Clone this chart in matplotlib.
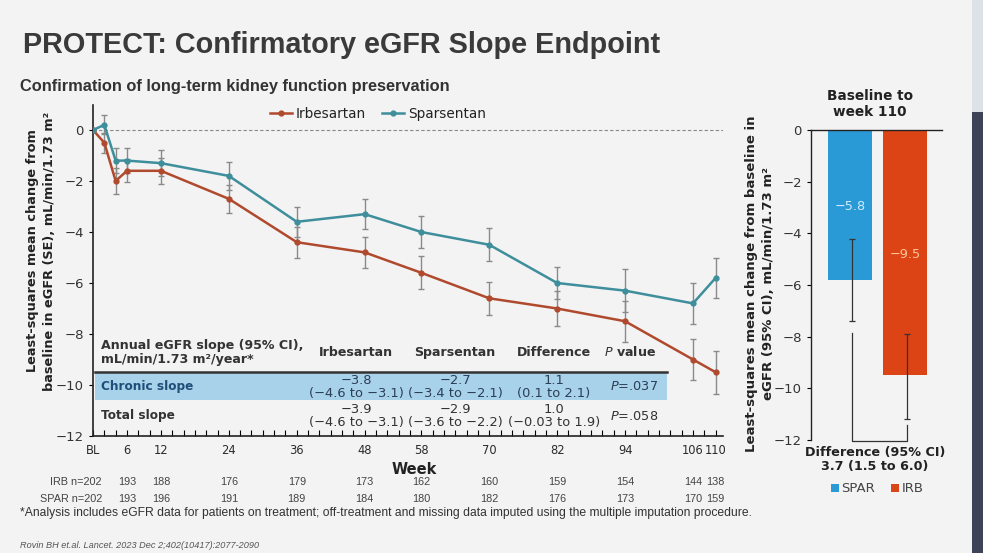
import matplotlib
matplotlib.use("Agg")
import matplotlib.pyplot as plt
from matplotlib.patches import Rectangle, Patch
from matplotlib.lines import Line2D
from matplotlib.transforms import blended_transform_factory

# ---------------- data ----------------
weeks = [0, 2, 4, 6, 12, 24, 36, 48, 58, 70, 82, 94, 106, 110]
irb_mean = [0, -0.5, -2.0, -1.6, -1.6, -2.7, -4.4, -4.8, -5.6, -6.6, -7.0, -7.5, -9.0, -9.5]
irb_se = [0, 0.4, 0.5, 0.45, 0.5, 0.55, 0.6, 0.6, 0.65, 0.65, 0.7, 0.8, 0.8, 0.85]
spar_mean = [0, 0.2, -1.2, -1.2, -1.3, -1.8, -3.6, -3.3, -4.0, -4.5, -6.0, -6.3, -6.8, -5.8]
spar_se = [0, 0.37, 0.5, 0.5, 0.5, 0.55, 0.6, 0.6, 0.63, 0.65, 0.62, 0.85, 0.8, 0.8]

tick_weeks = [0, 6, 12, 24, 36, 48, 58, 70, 82, 94, 106, 110]
tick_labels = ["BL", "6", "12", "24", "36", "48", "58", "70", "82", "94", "106", "110"]
n_irb = [202, 193, 188, 176, 179, 173, 162, 160, 159, 154, 144, 138]
n_spar = [202, 193, 196, 191, 189, 184, 180, 182, 176, 173, 170, 159]

table_cols = ["Irbesartan", "Sparsentan", "Difference"]
chronic_vals = ["\u22123.8\n(\u22124.6 to \u22123.1)", "\u22122.7\n(\u22123.4 to \u22122.1)", "1.1\n(0.1 to 2.1)"]
total_vals = ["\u22123.9\n(\u22124.6 to \u22123.1)", "\u22122.9\n(\u22123.6 to \u22122.2)", "1.0\n(\u22120.03 to 1.9)"]
p_vals = [".037", ".058"]

bar_groups = ["SPAR", "IRB"]
bar_values = [-5.8, -9.5]
bar_ci_low = [-7.4, -11.2]
bar_ci_high = [-4.2, -7.9]
bar_labels = ["\u22125.8", "\u22129.5"]
bracket_tops = [-7.85, -11.4]
bracket_bottom = -12.05

# ---------------- style ----------------
IRB_C = "#B04A2E"
SPAR_C = "#3E8E9C"
BAR_SPAR = "#2A9AD6"
BAR_IRB = "#DC4416"
BG = "#F3F3F3"
TXT = "#333333"
NARROW = ["Liberation Sans Narrow", "Liberation Sans"]

W, H = 983, 553
fig = plt.figure(figsize=(W / 100, H / 100), dpi=100)
fig.patch.set_facecolor(BG)

def fx(x):
    return x / W

def fy(y):
    return 1 - y / H

# right dark strip
fig.add_artist(Rectangle((fx(972), 0), 1 - fx(972), fy(112), transform=fig.transFigure,
                         facecolor="#3D4457", edgecolor="none", zorder=0))
fig.add_artist(Rectangle((fx(972), fy(112)), 1 - fx(972), 1 - fy(112), transform=fig.transFigure,
                         facecolor="#DCE2E7", edgecolor="none", zorder=0))

# titles
fig.text(fx(23), fy(45), "PROTECT: Confirmatory eGFR Slope Endpoint", fontsize=20.8,
         fontweight="bold", family="Liberation Sans", color="#3A3A3A", va="center", ha="left")
fig.text(fx(20), fy(86), "Confirmation of long-term kidney function preservation", fontsize=11.8,
         fontweight="bold", family="Liberation Sans", color=TXT, va="center", ha="left")

# ---------------- main axes ----------------
ax = fig.add_axes([fx(93), fy(436), fx(723) - fx(93), fy(104.5) - fy(436)])
ax.set_facecolor("none")
ax.set_xlim(0, 111.3)
ax.set_ylim(-12, 1.0)
ax.axhline(0, color="#888888", lw=0.8, ls=(0, (3, 2)), zorder=1)

ax.errorbar(weeks, irb_mean, yerr=irb_se, color=IRB_C, lw=1.8, marker="o", ms=3.5,
            ecolor="#8A8A8A", elinewidth=1.0, capsize=2.5, capthick=1.0, zorder=3)
ax.errorbar(weeks, spar_mean, yerr=spar_se, color=SPAR_C, lw=1.8, marker="o", ms=3.5,
            ecolor="#8A8A8A", elinewidth=1.0, capsize=2.5, capthick=1.0, zorder=3)

for s in ["top", "right"]:
    ax.spines[s].set_visible(False)
for s in ["left", "bottom"]:
    ax.spines[s].set_color("#222222")
    ax.spines[s].set_linewidth(1.2)
ax.set_xticks(tick_weeks)
ax.set_xticklabels(tick_labels)
ax.set_xticks(list(range(0, 112, 2)), minor=True)
ax.tick_params(axis="x", which="both", direction="in", length=4, width=0.8, labelsize=8.3,
               labelcolor="#2A2A2A", pad=6)
ax.set_yticks(list(range(-12, 1, 2)))
ax.tick_params(axis="y", direction="out", length=3, width=0.8, labelsize=9.5, labelcolor=TXT)

ax.set_xlabel("Week", fontsize=10.5, fontweight="bold", color="#222222")
ax.xaxis.set_label_coords(0.51, -0.078)

fig.text(fx(33), fy(251), "Least-squares mean change from", rotation=90, fontsize=9.3,
         fontweight="bold", color="#222222", ha="center", va="center")
fig.text(fx(50), fy(251), "baseline in eGFR (SE), mL/min/1.73 m\u00b2", rotation=90, fontsize=9.3,
         fontweight="bold", color="#222222", ha="center", va="center")

# legend
leg_handles = [Line2D([0], [0], color=IRB_C, lw=1.8, marker="o", ms=3.5),
               Line2D([0], [0], color=SPAR_C, lw=1.8, marker="o", ms=3.5)]
fig.legend(leg_handles, ["Irbesartan", "Sparsentan"], loc="center", ncol=2, frameon=False,
           bbox_to_anchor=(fx(378), fy(114)), fontsize=9.8, handlelength=1.6, handletextpad=0.3,
           columnspacing=1.2, labelcolor="#222222")

# ---------------- embedded table ----------------
fig.add_artist(Rectangle((fx(95), fy(400)), fx(667) - fx(95), fy(372) - fy(400),
                         transform=fig.transFigure, facecolor="#A8D1EA", edgecolor="none", zorder=2))
fig.add_artist(Line2D([fx(95), fx(667)], [fy(372), fy(372)], transform=fig.transFigure,
                      color="#333333", lw=1.8, zorder=3))
fig.text(fx(101), fy(352.5), "Annual eGFR slope (95% CI),\nmL/min/1.73 m\u00b2/year*", fontsize=9.1,
         fontweight="bold", color=TXT, ha="left", va="center", linespacing=1.1, zorder=4)
col_x = [356, 455, 554]
for cx, name in zip(col_x, table_cols):
    fig.text(fx(cx), fy(352.5), name, fontsize=9.1, fontweight="bold", color=TXT,
             ha="center", va="center", zorder=4)
fig.text(fx(630), fy(352.5), r"$\bf{\it{P}}$ value", fontsize=9.1, fontweight="bold", color=TXT,
         ha="center", va="center", zorder=4)
fig.text(fx(101), fy(386.5), "Chronic slope", fontsize=8.7, fontweight="bold", color="#1F4E79",
         ha="left", va="center", zorder=4)
fig.text(fx(101), fy(416), "Total slope", fontsize=8.7, fontweight="bold", color=TXT,
         ha="left", va="center", zorder=4)
for cx, v in zip(col_x, chronic_vals):
    fig.text(fx(cx), fy(387), v, fontsize=9.4, color="#2B3F55", ha="center", va="center",
             linespacing=1.05, zorder=4)
for cx, v in zip(col_x, total_vals):
    fig.text(fx(cx), fy(416), v, fontsize=9.4, color=TXT, ha="center", va="center",
             linespacing=1.05, zorder=4)
for yy, p, c in zip([386.5, 416], p_vals, ["#2B3F55", TXT]):
    fig.text(fx(634), fy(yy), r"$\it{P}$=" + p, fontsize=9.3, color=c, ha="center", va="center",
             zorder=4)

# n at risk
tr = blended_transform_factory(ax.transData, fig.transFigure)
for w, ni, ns in zip(tick_weeks[1:], n_irb[1:], n_spar[1:]):
    ax.text(w, fy(482), str(ni), transform=tr, fontsize=7.8, color="#444444", ha="center",
            va="center", family=NARROW)
    ax.text(w, fy(499), str(ns), transform=tr, fontsize=7.8, color="#444444", ha="center",
            va="center", family=NARROW)
fig.text(fx(102), fy(482), "IRB n=%d" % n_irb[0], fontsize=7.8, color="#444444", ha="right",
         va="center", family=NARROW)
fig.text(fx(102), fy(499), "SPAR n=%d" % n_spar[0], fontsize=7.8, color="#444444", ha="right",
         va="center", family=NARROW)

fig.text(fx(20), fy(513), "*Analysis includes eGFR data for patients on treatment; off-treatment and missing data imputed using the multiple imputation procedure.",
         fontsize=8.75, color="#333333", ha="left", va="center", family=NARROW)
fig.text(fx(20), fy(545), "Rovin BH et.al. Lancet. 2023 Dec 2;402(10417):2077-2090",
         fontsize=6.6, style="italic", color="#555555", ha="left", va="center", family=NARROW)

# ---------------- bar panel ----------------
ax2 = fig.add_axes([fx(811), fy(440), fx(942) - fx(811), fy(130) - fy(440)])
ax2.set_facecolor("none")
xpos = list(range(len(bar_groups)))
ax2.set_xlim(-0.71, 1.67)
ax2.set_ylim(-12, 0)
ax2.bar(xpos, bar_values, width=0.8, color=[BAR_SPAR, BAR_IRB], zorder=2)
for i in xpos:
    ax2.errorbar([i + 0.03], [(bar_ci_low[i] + bar_ci_high[i]) / 2],
                 yerr=[[(bar_ci_high[i] - bar_ci_low[i]) / 2]], color="#333333", lw=0.9,
                 capsize=2, capthick=0.9, zorder=3)
# bracket
ax2.plot([xpos[0] + 0.03, xpos[0] + 0.03, xpos[1] + 0.03, xpos[1] + 0.03],
         [bracket_tops[0], bracket_bottom, bracket_bottom, bracket_tops[1]],
         color="#333333", lw=0.9, zorder=3, clip_on=False)
ax2.text(xpos[0], -2.95, bar_labels[0], color="#CDEBFF", fontsize=9.3, ha="center", va="center", zorder=4)
ax2.text(xpos[1], -4.8, bar_labels[1], color="#FAC79A", fontsize=9.3, ha="center", va="center", zorder=4)
for s in ["bottom", "right"]:
    ax2.spines[s].set_visible(False)
for s in ["left", "top"]:
    ax2.spines[s].set_color("#222222")
    ax2.spines[s].set_linewidth(1.0)
ax2.set_xticks([])
ax2.set_yticks(list(range(-12, 1, 2)))
ax2.tick_params(axis="y", direction="out", length=3, width=0.8, labelsize=9.5, labelcolor=TXT)

fig.text(fx(870), fy(104), "Baseline to\nweek 110", fontsize=9.8, fontweight="bold", color="#222222",
         ha="center", va="center", linespacing=1.15)
fig.text(fx(752), fy(284), "Least-squares mean change from baseline in", rotation=90, fontsize=9.5,
         fontweight="bold", color="#222222", ha="center", va="center")
fig.text(fx(768), fy(284), "eGFR (95% CI), mL/min/1.73 m\u00b2", rotation=90, fontsize=9.5,
         fontweight="bold", color="#222222", ha="center", va="center")
fig.text(fx(875), fy(459.5), "Difference (95% CI)\n3.7 (1.5 to 6.0)", fontsize=9.2, fontweight="bold",
         color="#222222", ha="center", va="center", linespacing=1.15)
bar_handles = [Patch(facecolor=BAR_SPAR), Patch(facecolor=BAR_IRB)]
fig.legend(bar_handles, bar_groups, loc="center", ncol=2, frameon=False,
           bbox_to_anchor=(fx(877), fy(489)), fontsize=9.5, handlelength=0.6, handleheight=0.6,
           handletextpad=0.2, columnspacing=1.2, labelcolor="#444444")

fig.savefig("out.png", dpi=100, facecolor=BG)
